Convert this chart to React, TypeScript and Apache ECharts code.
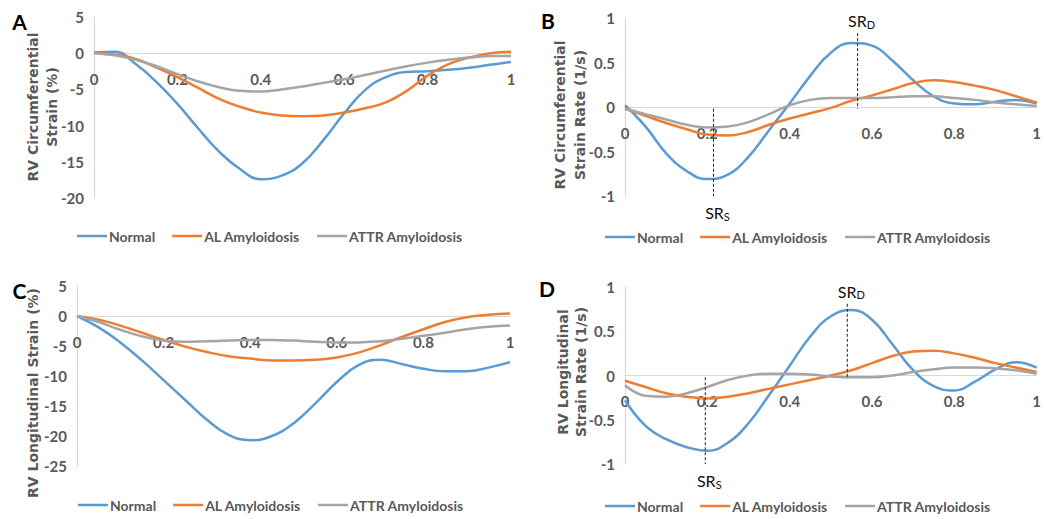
import React, { useEffect, useRef } from "react";
import * as echarts from "echarts";

// x positions (fraction of cardiac cycle)
const X = [0, 0.05, 0.1, 0.15, 0.2, 0.25, 0.3, 0.35, 0.4, 0.45, 0.5, 0.55, 0.6, 0.65, 0.7, 0.75, 0.8, 0.85, 0.9, 0.95, 1];
const X_TICKS = [0, 0.2, 0.4, 0.6, 0.8, 1];
const SERIES_NAMES = ["Normal", "AL Amyloidosis", "ATTR Amyloidosis"];
const COLORS = ["#5B9BD5", "#ED7D31", "#A5A5A5"];

// Panel A: RV circumferential strain (%)
const A_NORMAL = [0.1, 0.2, -1.5, -4.0, -7.0, -10.4, -13.6, -16.0, -17.4, -16.9, -15.2, -12.0, -8.3, -5.1, -3.3, -2.6, -2.5, -2.3, -2.0, -1.6, -1.2];
const A_AL = [0.1, -0.2, -0.8, -2.0, -3.3, -4.8, -6.3, -7.4, -8.2, -8.6, -8.7, -8.6, -8.2, -7.6, -6.8, -5.2, -3.1, -1.5, -0.6, 0.0, 0.2];
const A_ATTR = [0.0, -0.3, -0.9, -1.8, -2.9, -3.9, -4.7, -5.2, -5.3, -5.0, -4.6, -4.1, -3.6, -3.0, -2.4, -1.8, -1.3, -0.9, -0.6, -0.4, -0.4];

// Panel B: RV circumferential strain rate (1/s)
const B_NORMAL = [0.02, -0.22, -0.52, -0.72, -0.81, -0.76, -0.56, -0.26, 0.04, 0.35, 0.61, 0.72, 0.69, 0.52, 0.3, 0.12, 0.04, 0.03, 0.06, 0.08, 0.04];
const B_AL = [-0.02, -0.1, -0.18, -0.25, -0.31, -0.32, -0.28, -0.2, -0.13, -0.07, -0.01, 0.07, 0.13, 0.2, 0.27, 0.3, 0.28, 0.24, 0.19, 0.12, 0.05];
const B_ATTR = [-0.02, -0.08, -0.14, -0.2, -0.23, -0.22, -0.17, -0.08, 0.02, 0.08, 0.1, 0.1, 0.1, 0.11, 0.12, 0.12, 0.1, 0.08, 0.05, 0.03, 0.01];

// Panel C: RV longitudinal strain (%)
const C_NORMAL = [0, -1.9, -4.4, -7.4, -10.7, -14.0, -17.3, -19.8, -20.7, -20.0, -17.9, -14.6, -11.0, -8.2, -7.3, -8.0, -8.8, -9.2, -9.2, -8.6, -7.7];
const C_AL = [0, -0.6, -1.6, -2.8, -4.0, -5.1, -6.0, -6.7, -7.1, -7.4, -7.4, -7.3, -6.9, -6.1, -4.9, -3.5, -2.2, -1.0, -0.2, 0.2, 0.4];
const C_ATTR = [0, -1.0, -2.3, -3.4, -4.1, -4.3, -4.2, -4.1, -4.0, -4.0, -4.1, -4.3, -4.4, -4.4, -4.2, -3.8, -3.3, -2.8, -2.2, -1.8, -1.6];

// Panel D: RV longitudinal strain rate (1/s)
const D_NORMAL = [-0.28, -0.57, -0.72, -0.81, -0.85, -0.76, -0.54, -0.22, 0.11, 0.44, 0.67, 0.74, 0.63, 0.35, 0.06, -0.12, -0.17, -0.07, 0.07, 0.15, 0.09];
const D_AL = [-0.06, -0.13, -0.2, -0.24, -0.26, -0.24, -0.2, -0.15, -0.1, -0.05, 0.0, 0.06, 0.14, 0.22, 0.27, 0.28, 0.25, 0.2, 0.14, 0.09, 0.04];
const D_ATTR = [-0.11, -0.23, -0.24, -0.2, -0.13, -0.05, 0.0, 0.02, 0.02, 0.01, -0.01, -0.02, -0.02, 0.0, 0.04, 0.07, 0.09, 0.09, 0.08, 0.06, 0.02];

// Peak markers (SR_S systolic, SR_D diastolic): [x, yFrom], [x, yTo]
const B_SRS = [[0.215, -0.02], [0.215, -1]];
const B_SRD = [[0.565, 0.83], [0.565, -0.02]];
const D_SRS = [[0.195, -0.02], [0.195, -1]];
const D_SRD = [[0.54, 0.81], [0.54, -0.04]];

// Axis ranges
const Y_RANGES = [
  { min: -20, max: 5, interval: 5 },
  { min: -1, max: 1, interval: 0.5 },
  { min: -25, max: 5, interval: 5 },
  { min: -1, max: 1, interval: 0.5 },
];
const Y_TITLES = [
  "RV Circumferential\nStrain (%)",
  "RV Circumferential\nStrain Rate (1/s)",
  "RV Longitudinal Strain (%)",
  "RV Longitudinal\nStrain Rate (1/s)",
];
const PANEL_LETTERS = ["A", "B", "C", "D"];
const PANEL_DATA = [
  [A_NORMAL, A_AL, A_ATTR],
  [B_NORMAL, B_AL, B_ATTR],
  [C_NORMAL, C_AL, C_ATTR],
  [D_NORMAL, D_AL, D_ATTR],
];

// Layout (styles)
const GRIDS = [
  { left: 94, top: 17, width: 417, height: 181 },
  { left: 625, top: 18, width: 412, height: 178 },
  { left: 77, top: 286, width: 433, height: 180 },
  { left: 625, top: 287, width: 412, height: 177 },
];
// centres of the rotated y-axis titles
const TITLE_POS = [
  [42.5, 107],
  [570, 115],
  [33, 393],
  [572, 372],
];
const TITLE_LINE_H = [19, 20, 20, 18];
const LEGEND_POS = [
  { left: 77, top: 229 },
  { left: 605, top: 230 },
  { left: 78, top: 498 },
  { left: 605, top: 499 },
];
const LETTER_POS = [
  [19.5, 21],
  [548, 20],
  [19.5, 290],
  [547, 288],
];

const FONT_H = "Lato, 'Open Sans', sans-serif";
const FONT_V = "'DejaVu Sans', sans-serif";
const TEXT_GREY = "#595959";
const AXIS_GREY = "#D9D9D9";

function pairs(ys: number[]) {
  return X.map((x, i) => [x, ys[i]]);
}

function markerSeries(idx: number, pts: number[][], which: "S" | "D", name: string) {
  const labelCfg = {
    show: true,
    position: which === "S" ? "bottom" : "top",
    distance: which === "S" ? 7 : 3,
    offset: [4, 0],
    formatter: which === "S" ? "{m|SR}{s|S}" : "{m|SR}{s|D}",
    rich: {
      m: { fontSize: 16, fontFamily: FONT_H, color: "#111", lineHeight: 18 },
      s: { fontSize: 11, fontFamily: FONT_H, color: "#111", lineHeight: 11, verticalAlign: "bottom" },
    },
  };
  const data = pts.map((p, i) => {
    const labelOn = which === "S" ? i === pts.length - 1 : i === 0;
    return labelOn ? { value: p, label: labelCfg } : { value: p };
  });
  return {
    type: "line",
    name,
    xAxisIndex: idx,
    yAxisIndex: idx,
    data,
    symbol: "circle",
    symbolSize: 1,
    showSymbol: true,
    itemStyle: { color: "rgba(0,0,0,0)" },
    lineStyle: { color: "#222", width: 1, type: [3, 2] },
    label: { show: false },
    silent: true,
    z: 5,
  };
}

function buildOption() {
  const grid = GRIDS.map((g) => ({ ...g, containLabel: false }));
  const xAxis = GRIDS.map((g, i) => {
    const r = Y_RANGES[i];
    // move the x axis (line + labels) up to the y = 0 position of its grid
    const zeroFromBottom = (g.height * (0 - r.min)) / (r.max - r.min);
    return {
      type: "value",
      gridIndex: i,
      min: 0,
      max: 1,
      interval: 0.2,
      position: "bottom",
      offset: -zeroFromBottom,
      axisLine: { show: true, onZero: false, lineStyle: { color: AXIS_GREY, width: 1.2 } },
      axisTick: { show: false },
      splitLine: { show: false },
      axisLabel: {
        margin: 18,
        color: TEXT_GREY,
        fontWeight: "bold",
        fontSize: 15,
        fontFamily: FONT_H,
        formatter: (v: number) => {
          const t = X_TICKS.find((k) => Math.abs(k - v) < 1e-9);
          return t === undefined ? "" : String(t);
        },
      },
    };
  });
  const yAxis = Y_RANGES.map((r, i) => ({
    type: "value",
    gridIndex: i,
    min: r.min,
    max: r.max,
    interval: r.interval,
    axisLine: { show: true, onZero: false, lineStyle: { color: AXIS_GREY, width: 1.2 } },
    axisTick: { show: false },
    splitLine: { show: false },
    axisLabel: {
      margin: 10,
      color: TEXT_GREY,
      fontWeight: "bold",
      fontSize: 15,
      fontFamily: FONT_H,
    },
  }));
  const series: any[] = [];
  PANEL_DATA.forEach((set, i) => {
    set.forEach((ys, k) => {
      series.push({
        type: "line",
        name: SERIES_NAMES[k],
        xAxisIndex: i,
        yAxisIndex: i,
        data: pairs(ys),
        smooth: 0.45,
        symbol: "none",
        lineStyle: { color: COLORS[k], width: 2.5 },
        itemStyle: { color: COLORS[k] },
        z: 3,
      });
    });
  });
  series.push(markerSeries(1, B_SRS, "S", "B-SRs"));
  series.push(markerSeries(1, B_SRD, "D", "B-SRd"));
  series.push(markerSeries(3, D_SRS, "S", "D-SRs"));
  series.push(markerSeries(3, D_SRD, "D", "D-SRd"));

  const legend = LEGEND_POS.map((p) => ({
    data: SERIES_NAMES,
    left: p.left,
    top: p.top,
    padding: 0,
    orient: "horizontal",
    icon: "rect",
    itemWidth: 30,
    itemHeight: 2.5,
    itemGap: 17,
    selectedMode: false,
    textStyle: { color: TEXT_GREY, fontWeight: "bold", fontSize: 14, fontFamily: FONT_H, padding: [0, 0, 0, -3] },
  }));

  const letters = PANEL_LETTERS.map((t, i) => ({
    type: "text",
    x: LETTER_POS[i][0],
    y: LETTER_POS[i][1],
    style: {
      text: t,
      fill: "#000",
      font: `bold 21px ${FONT_H}`,
      textAlign: "center",
      textVerticalAlign: "middle",
    },
  }));
  const titles = Y_TITLES.map((t, i) => ({
    type: "text",
    x: TITLE_POS[i][0],
    y: TITLE_POS[i][1],
    rotation: Math.PI / 2,
    style: {
      text: t,
      fill: TEXT_GREY,
      font: `bold 14px ${FONT_V}`,
      lineHeight: TITLE_LINE_H[i],
      textAlign: "center",
      textVerticalAlign: "middle",
    },
  }));

  return {
    animation: false,
    backgroundColor: "#ffffff",
    grid,
    xAxis,
    yAxis,
    series,
    legend,
    graphic: [...letters, ...titles],
  };
}

export default function App() {
  const ref = useRef<HTMLDivElement>(null);
  useEffect(() => {
    if (!ref.current) return;
    const chart = echarts.init(ref.current, null, { renderer: "svg" });
    chart.setOption(buildOption() as any);
    return () => chart.dispose();
  }, []);
  return (
    <div
      ref={ref}
      style={{ position: "absolute", left: 0, top: 0, width: 1044, height: 519, background: "#fff" }}
    />
  );
}
